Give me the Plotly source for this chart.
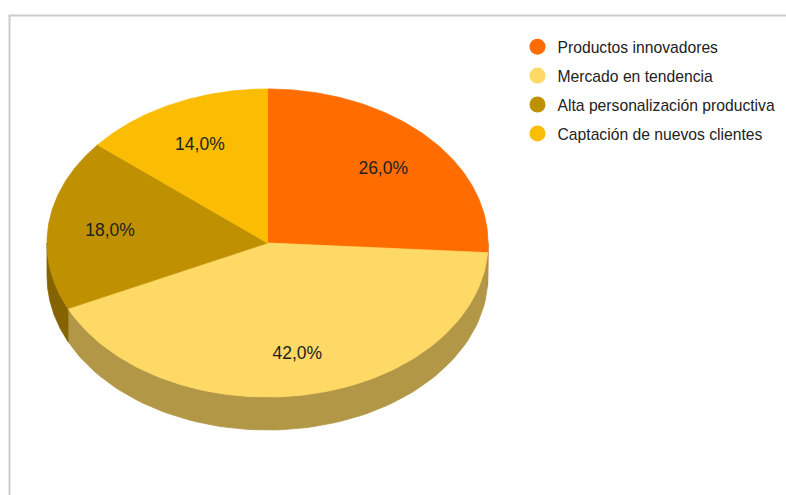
import numpy as np
import plotly.graph_objects as go

categories = ["Productos innovadores", "Mercado en tendencia",
              "Alta personalización productiva", "Captación de nuevos clientes"]
values = [26.0, 42.0, 18.0, 14.0]
colors = ["#ff6d01", "#ffd966", "#bf9000", "#fbbc04"]

W, H = 786, 495
cx, cy, rx, ry, depth = 267.5, 243.0, 220.5, 154.0, 33.0
label_frac = 0.72
label_dy = 2.5


def darken(hexc, f=0.7):
    hexc = hexc.lstrip("#")
    r, g, b = (int(hexc[i:i + 2], 16) for i in (0, 2, 4))
    return "#%02x%02x%02x" % (int(r * f), int(g * f), int(b * f))


def pt(theta_deg, dy=0.0, frac=1.0):
    t = np.radians(theta_deg)
    return cx + frac * rx * np.sin(t), cy - frac * ry * np.cos(t) + dy


total = sum(values)
fracs = [v / total for v in values]
starts = np.cumsum([0] + fracs[:-1]) * 360
ends = starts + np.array(fracs) * 360

fig = go.Figure()

# sides (front half: 90..270 deg clockwise from top)
for s, e, c in zip(starts, ends, colors):
    a, b = max(s, 90), min(e, 270)
    if b <= a:
        continue
    th = np.linspace(a, b, 80)
    xt, yt = pt(th)
    xb, yb = pt(th[::-1], dy=depth)
    xs = np.concatenate([xt, xb, xt[:1]])
    ys = np.concatenate([yt, yb, yt[:1]])
    dc = darken(c)
    fig.add_trace(go.Scatter(x=xs, y=ys, fill="toself", fillcolor=dc, mode="lines",
                             line=dict(color=dc, width=0.8), hoverinfo="skip",
                             showlegend=False))

# top faces
for s, e, c in zip(starts, ends, colors):
    th = np.linspace(s, e, 120)
    xa, ya = pt(th)
    xs = np.concatenate([[cx], xa, [cx]])
    ys = np.concatenate([[cy], ya, [cy]])
    fig.add_trace(go.Scatter(x=xs, y=ys, fill="toself", fillcolor=c, mode="lines",
                             line=dict(color=c, width=0.8), hoverinfo="skip",
                             showlegend=False))

# labels
lx, ly, lt = [], [], []
for s, e, f in zip(starts, ends, fracs):
    x, y = pt((s + e) / 2, dy=label_dy, frac=label_frac)
    lx.append(x)
    ly.append(y)
    lt.append(f"{f * 100:.1f}".replace(".", ",") + "%")
fig.add_trace(go.Scatter(x=lx, y=ly, mode="text", text=lt,
                         textfont=dict(family="Arial, Liberation Sans", size=17.5, color="#222222"),
                         hoverinfo="skip", showlegend=False))

# legend entries
for i, (name, c) in enumerate(zip(categories, colors)):
    fig.add_trace(go.Scatter(x=[None], y=[None], mode="markers", name=name,
                             legendgroup=f"g{i}",
                             marker=dict(symbol="circle", size=16, color=c)))

fig.update_layout(
    width=W, height=H, autosize=False,
    margin=dict(l=0, r=0, t=0, b=0),
    paper_bgcolor="white", plot_bgcolor="white",
    xaxis=dict(range=[0, W], visible=False, fixedrange=True),
    yaxis=dict(range=[H, 0], visible=False, fixedrange=True),
    legend=dict(x=517.5 / W, y=1 - 30 / H, xanchor="left", yanchor="top",
                font=dict(family="Arial, Liberation Sans", size=15.7, color="#222222"),
                tracegroupgap=5.5, bgcolor="rgba(0,0,0,0)", itemsizing="trace"),
    shapes=[dict(type="rect", xref="paper", yref="paper",
                 x0=9.5 / W, x1=1.05, y0=-0.05, y1=1 - 15.5 / H,
                 line=dict(color="#cccccc", width=2), fillcolor="rgba(0,0,0,0)")],
    showlegend=True,
)

fig.write_html("out.html")
